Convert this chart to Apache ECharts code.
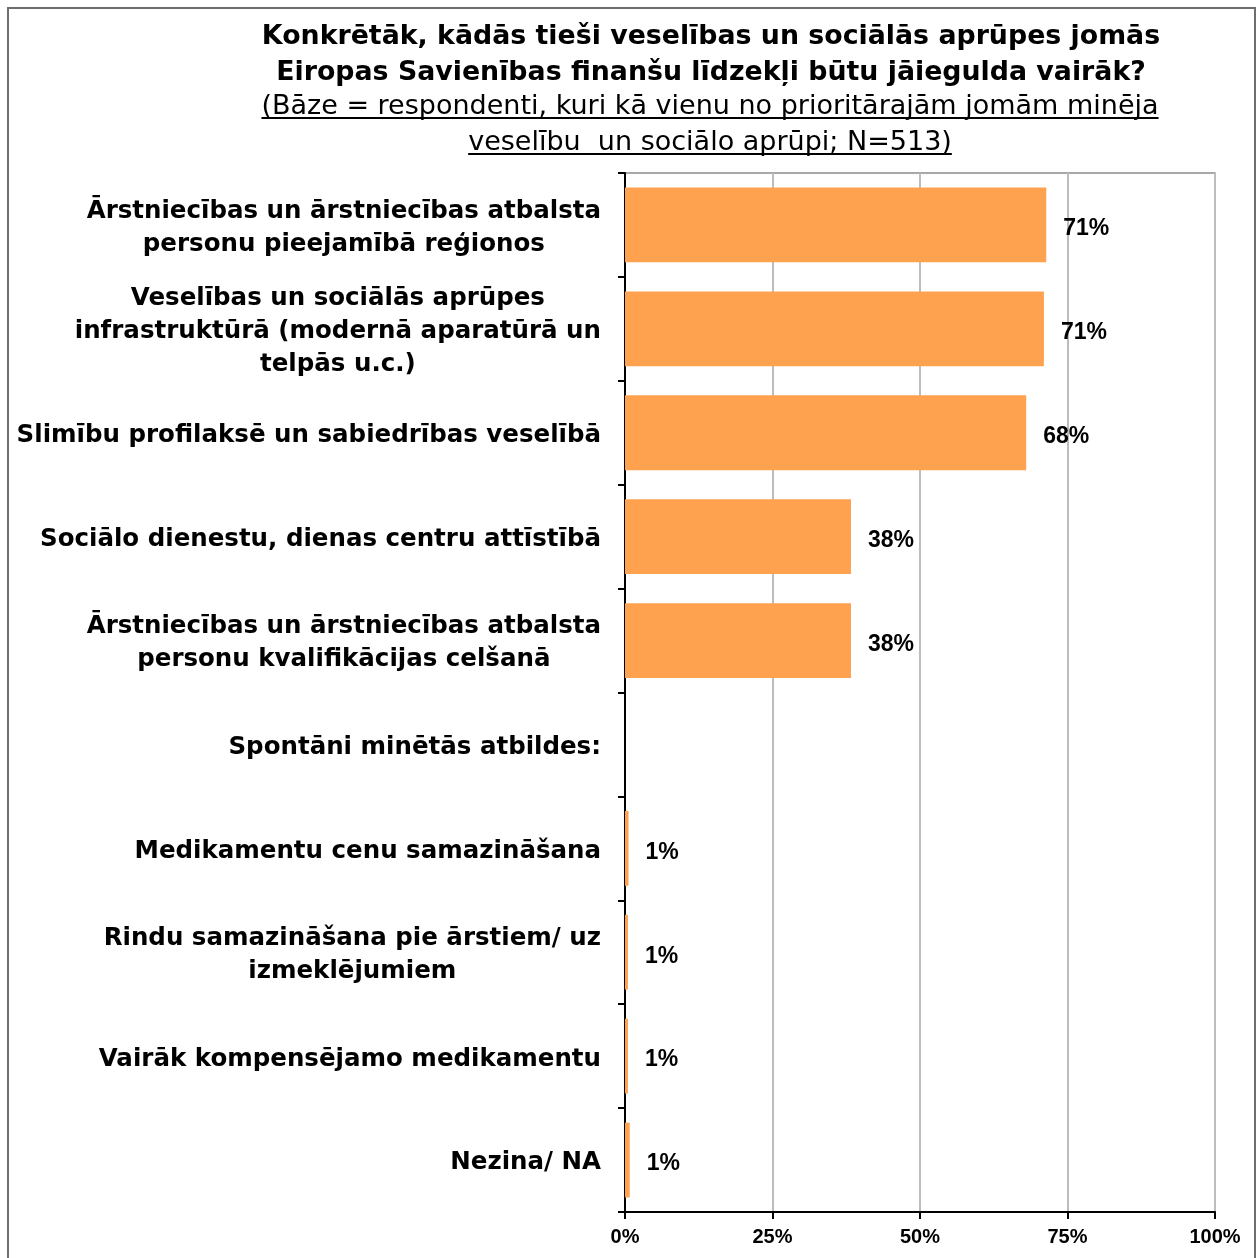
<!DOCTYPE html>
<html>
<head>
<meta charset="utf-8">
<script src="https://cdn.jsdelivr.net/npm/echarts@6/dist/echarts.min.js"></script>
<style>
html,body{margin:0;padding:0;background:#fff;}
#frame{position:absolute;left:7px;top:7px;width:1249px;height:1270px;border:2px solid #6e6e6e;box-sizing:border-box;}
#chart{position:absolute;left:0;top:0;width:1257px;height:1258px;}
</style>
</head>
<body>
<div id="frame"></div>
<div id="chart"></div>
<script>
const titleLines = [
  'Konkrētāk, kādās tieši veselības un sociālās aprūpes jomās',
  'Eiropas Savienības finanšu līdzekļi būtu jāiegulda vairāk?'
];
const subtitleLines = [
  '(Bāze = respondenti, kuri kā vienu no prioritārajām jomām minēja',
  'veselību  un sociālo aprūpi; N=513)'
];
const categories = [
  'Ārstniecības un ārstniecības atbalsta\npersonu pieejamībā reģionos',
  'Veselības un sociālās aprūpes\ninfrastruktūrā (modernā aparatūrā un\ntelpās u.c.)',
  'Slimību profilaksē un sabiedrības veselībā',
  'Sociālo dienestu, dienas centru attīstībā',
  'Ārstniecības un ārstniecības atbalsta\npersonu kvalifikācijas celšanā',
  'Spontāni minētās atbildes:',
  'Medikamentu cenu samazināšana',
  'Rindu samazināšana pie ārstiem/ uz\nizmeklējumiem',
  'Vairāk kompensējamo medikamentu',
  'Nezina/ NA'
];
const values = [71.4, 71.0, 68.0, 38.3, 38.3, null, 0.6, 0.5, 0.5, 0.8];
const valueLabels = ['71%', '71%', '68%', '38%', '38%', '', '1%', '1%', '1%', '1%'];
const xTicks = [0, 25, 50, 75, 100];

const FONT = '"Liberation Sans", Arial, sans-serif';
const WIDE = '"DejaVu Sans", sans-serif';
const SUB_SIZE = 27;
const SUB_TOP = 89, SUB_LH = 36, CX = 710;

// underline widths measured from the actual text
const mctx = document.createElement('canvas').getContext('2d');
mctx.font = SUB_SIZE + 'px "DejaVu Sans"';
const underlines = subtitleLines.map((s, i) => {
  const w = mctx.measureText(s).width;
  const y = SUB_TOP + i * SUB_LH + SUB_LH / 2 + 11;
  return {type: 'line', shape: {x1: CX - w / 2, y1: y, x2: CX + w / 2, y2: y}, style: {stroke: '#000', lineWidth: 2}, silent: true};
});

const chart = echarts.init(document.getElementById('chart'), null, {renderer: 'canvas'});
chart.setOption({
  backgroundColor: 'transparent',
  animation: false,
  title: [
    {
      text: titleLines.join('\n'),
      left: CX + 1, top: 19, textAlign: 'center', padding: 0,
      textStyle: {fontFamily: WIDE, fontSize: 26.8, fontWeight: 'bold', color: '#000', lineHeight: 36}
    },
    {
      text: subtitleLines.join('\n'),
      left: CX, top: SUB_TOP, textAlign: 'center', padding: 0,
      textStyle: {fontFamily: WIDE, fontSize: SUB_SIZE, fontWeight: 'normal', color: '#000', lineHeight: SUB_LH}
    }
  ],
  graphic: underlines,
  grid: {left: 625, right: 42, top: 173, bottom: 46, show: true, borderColor: '#8c8c8c', borderWidth: 1.5, containLabel: false},
  xAxis: {
    type: 'value', min: 0, max: 100, interval: 25,
    axisLine: {show: true, lineStyle: {color: '#000', width: 2}},
    axisTick: {show: true, length: 7, lineStyle: {color: '#000', width: 2}},
    splitLine: {show: true, lineStyle: {color: '#bdbdbd', width: 2}},
    axisLabel: {
      fontFamily: FONT, fontSize: 20, fontWeight: 'bold', color: '#000', margin: 15,
      formatter: v => xTicks.includes(v) ? v + '%' : ''
    }
  },
  yAxis: {
    type: 'category', data: categories, inverse: true,
    axisLine: {show: true, lineStyle: {color: '#000', width: 2}},
    axisTick: {show: true, length: 7, lineStyle: {color: '#000', width: 2}},
    axisLabel: {
      margin: 24, align: 'right', padding: [6, 0, 0, 0],
      fontFamily: WIDE, fontSize: 24.5, fontWeight: 'bold', color: '#000', lineHeight: 33,
      formatter: v => v.split('\n').map(s => '{c|' + s + '}').join('\n'),
      rich: {c: {align: 'center', fontFamily: WIDE, fontSize: 24.5, fontWeight: 'bold', color: '#000', lineHeight: 33}}
    }
  },
  series: [{
    type: 'bar',
    data: values,
    barCategoryGap: '28%',
    itemStyle: {color: '#FFA24F'},
    label: {
      show: true, position: 'right', distance: 17, offset: [0, 4],
      fontFamily: FONT, fontSize: 23, fontWeight: 'bold', color: '#000',
      formatter: p => valueLabels[p.dataIndex]
    }
  }]
});
</script>
</body>
</html>
